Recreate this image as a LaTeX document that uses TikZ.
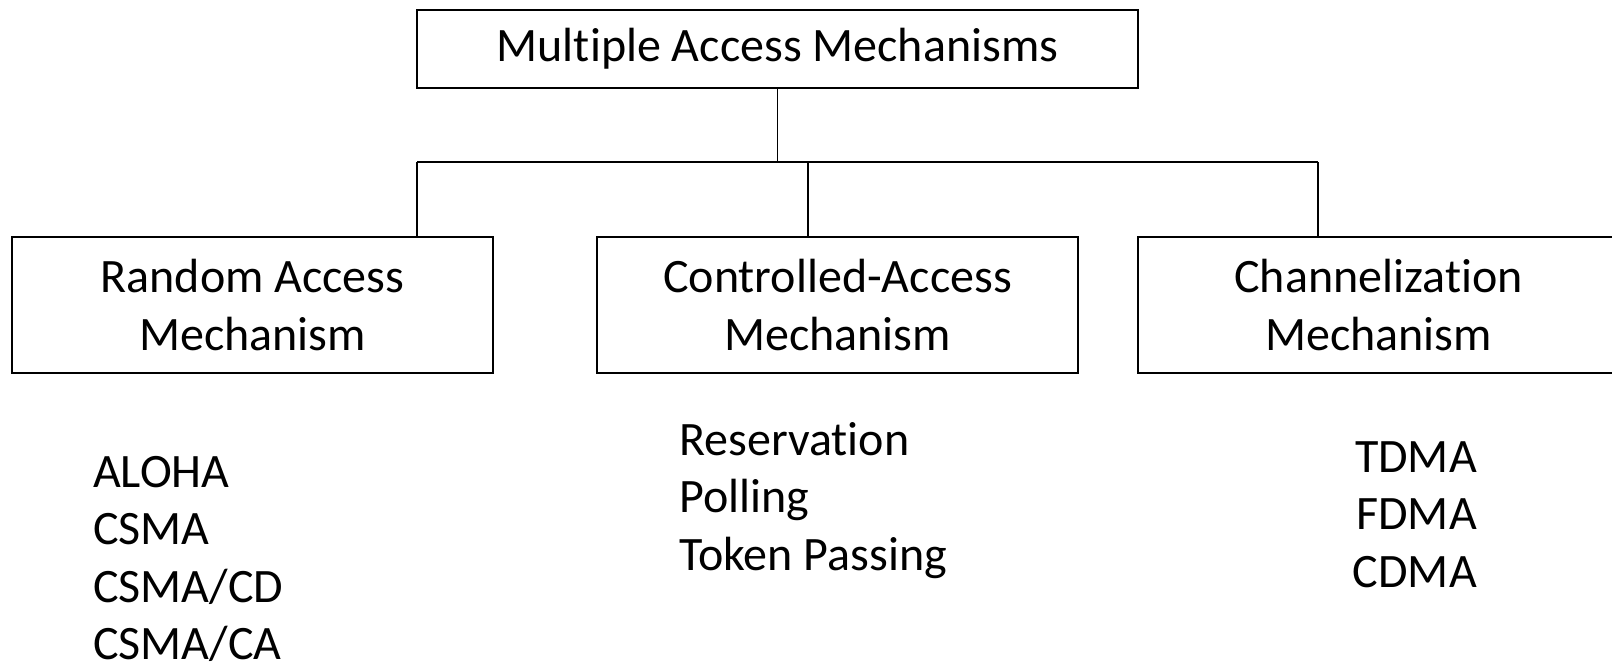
\documentclass[tikz,border=0pt]{standalone}
\usepackage{fontspec}
\setmainfont{Carlito}[Ligatures=CommonOff]
\begin{document}
\begin{tikzpicture}[x=1bp,y=-1bp,
  txt/.style={font=\fontsize{48bp}{58bp}\selectfont},
  box/.style={txt, draw=black, line width=1.4bp, rectangle, inner sep=0pt,
    minimum width=481bp, minimum height=136bp, align=center},
  topbox/.style={txt, draw=black, line width=1.4bp, rectangle, inner sep=0pt,
    minimum width=721bp, minimum height=78bp},
  item/.style={txt, inner sep=0pt},
  wire/.style={line width=1.4bp, black}]
\useasboundingbox (0,0) rectangle (1612,667);
\clip (0,0) rectangle (1612,667);

% root of the tree
\node[topbox] (top) at (777.5,49) {Multiple Access Mechanisms};

% the three families
\node[box] (ra) at (252.5,305) {Random Access\\Mechanism};
\node[box] (ca) at (837.5,305) {Controlled-Access\\Mechanism};
\node[box] (ch) at (1378.5,305) {Channelization\\Mechanism};

% bus joining root and families
\coordinate (barL) at (417,162);
\coordinate (barM) at (808,162);
\coordinate (barR) at (1318,162);
\draw[wire] (top.south) -- (top.south |- barL);
\draw[wire] (barL) -- (barR);
\draw[wire] (barL) -- (barL |- ra.north);
\draw[wire] (barM) -- (barM |- ca.north);
\draw[wire] (barR) -- (barR |- ch.north);

% random access methods
\node[item, anchor=base west] (aloha) at (93,487) {ALOHA};
\node[item, anchor=base west] (csma) at (93,544) {CSMA};
\node[item, anchor=base west] (csmacd) at (93,602) {CSMA/CD};
\node[item, anchor=base west] (csmaca) at (93,659) {CSMA/CA};

% controlled access methods
\node[item, anchor=base west] (resv) at (679,455) {Reservation};
\node[item, anchor=base west] (poll) at (679,512) {Polling};
\node[item, anchor=base west] (token) at (679,570) {Token Passing};

% channelization methods
\node[item, anchor=base east] (tdma) at (1477,472) {TDMA};
\node[item, anchor=base east] (fdma) at (1477,529) {FDMA};
\node[item, anchor=base east] (cdma) at (1477,587) {CDMA};
\end{tikzpicture}
\end{document}
